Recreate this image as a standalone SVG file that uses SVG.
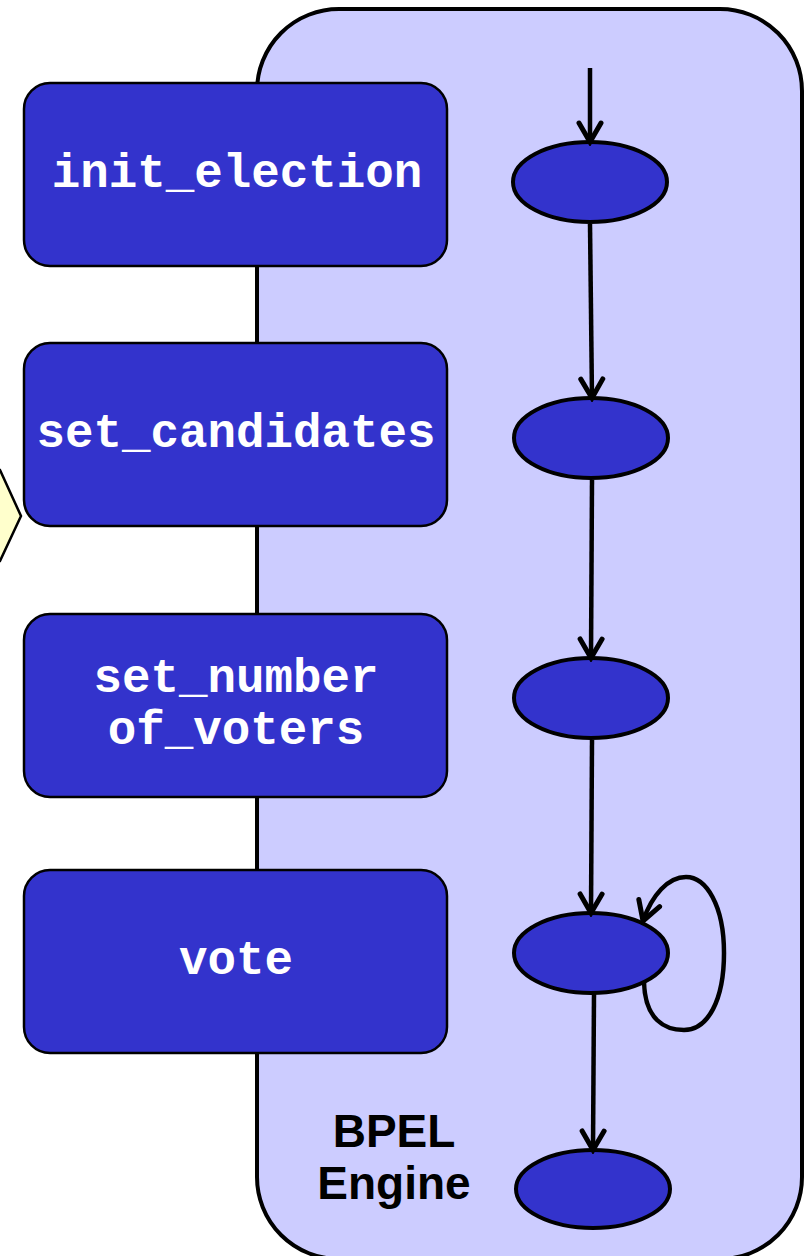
<svg xmlns="http://www.w3.org/2000/svg" width="805" height="1256" viewBox="0 0 805 1256">
  <defs>
    <style>
      .engine { fill: #CCCCFF; stroke: #000; stroke-width: 4; }
      .op { fill: #3333CC; stroke: #000; stroke-width: 2.5; }
      .op-label { font-family: "Liberation Mono", "Courier New", monospace; font-weight: bold; font-size: 47.5px; fill: #fff; text-anchor: middle; }
      .state { fill: #3333CC; stroke: #000; stroke-width: 4; }
      .flow { fill: none; stroke: #000; stroke-width: 4.5; marker-end: url(#arrow); }
      .title { font-family: "Liberation Sans", Arial, sans-serif; font-weight: bold; font-size: 46px; fill: #000; text-anchor: middle; }
    </style>
    <marker id="arrow" viewBox="-2 -2 26 28" refX="20" refY="12" markerWidth="26" markerHeight="28" markerUnits="userSpaceOnUse" orient="auto">
      <path d="M1,1 L20,12 L1,23" fill="none" stroke="#000" stroke-width="5" stroke-linecap="round" stroke-linejoin="miter"/>
    </marker>
  </defs>

  <rect width="805" height="1256" fill="#fff"/>

  <!-- partly visible note shape at the left edge -->
  <g id="note">
    <polygon points="-20,470 0,470 21,516 0,561 -20,561" fill="#FFFFCC" stroke="#000" stroke-width="2.5"/>
  </g>

  <!-- BPEL engine container -->
  <g id="engine">
    <rect class="engine" x="257" y="9" width="545" height="1250" rx="82" ry="82"/>
    <text class="title" x="394" y="1147">BPEL</text>
    <text class="title" x="394" y="1199">Engine</text>
  </g>

  <!-- operations -->
  <g id="op-init-election">
    <rect class="op" x="24" y="83" width="423" height="183" rx="26" ry="26"/>
    <text class="op-label" x="237" y="187">init_election</text>
  </g>
  <g id="op-set-candidates">
    <rect class="op" x="24" y="343" width="423" height="183" rx="26" ry="26"/>
    <text class="op-label" x="236" y="447">set_candidates</text>
  </g>
  <g id="op-set-number-of-voters">
    <rect class="op" x="24" y="614" width="423" height="183" rx="26" ry="26"/>
    <text class="op-label" x="236" y="692">set_number</text>
    <text class="op-label" x="236" y="744">of_voters</text>
  </g>
  <g id="op-vote">
    <rect class="op" x="24" y="870" width="423" height="183" rx="26" ry="26"/>
    <text class="op-label" x="236" y="974">vote</text>
  </g>

  <!-- process states -->
  <g id="state-1"><ellipse class="state" cx="590" cy="182" rx="77" ry="40"/></g>
  <g id="state-2"><ellipse class="state" cx="591" cy="438" rx="77" ry="40"/></g>
  <g id="state-3"><ellipse class="state" cx="591" cy="698" rx="77" ry="40"/></g>
  <g id="state-4"><ellipse class="state" cx="591" cy="953" rx="77" ry="40"/></g>
  <g id="state-5"><ellipse class="state" cx="593" cy="1189" rx="77" ry="39"/></g>

  <!-- transitions -->
  <g id="connectors">
    <path class="flow" d="M590,68 L590,142"/>
    <path class="flow" d="M590,224 L592,398"/>
    <path class="flow" d="M592,480 L591,658"/>
    <path class="flow" d="M592,740 L591,913"/>
    <path class="flow" d="M594,993 L593,1150"/>
    <path class="flow" d="M644,982 C645,1020 665,1030 684,1030 C708,1030 724,1000 724,953 C724,905 706,877 686,877 C668,877 652,895 643,921"/>
  </g>
</svg>
